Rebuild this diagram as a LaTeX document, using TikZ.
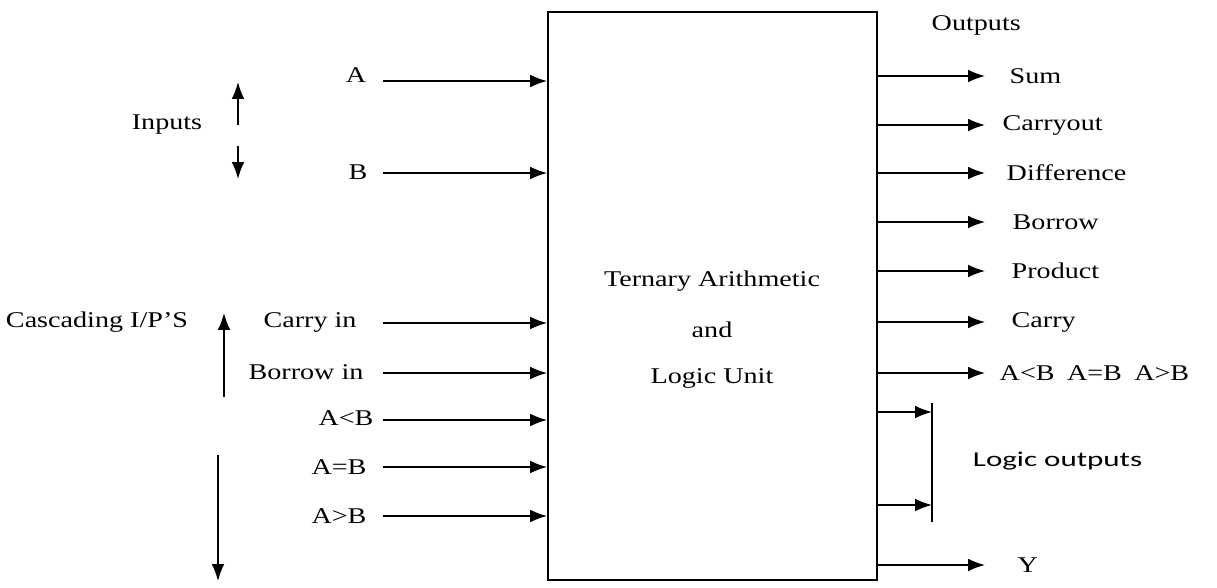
\documentclass[tikz,border=0pt]{standalone}
\usepackage{fontspec}
\setmainfont[FakeStretch=1.25]{Liberation Serif}
\newfontfamily\logicfont[FakeStretch=1.47]{Carlito}
\usetikzlibrary{arrows.meta, positioning}
\tikzset{
  unit/.style = {draw=black, line width=1.2pt, minimum width=8.225cm,
                 minimum height=14.2cm},
  arr/.style  = {-{Latex[length=12pt,width=9pt]}, line width=1.1pt},
  lbl/.style  = {font=\fontsize{16}{19}\selectfont, inner sep=1pt},
  bar/.style  = {line width=1.4pt},
}

\begin{document}
\begin{tikzpicture}[x=0.025cm, y=-0.025cm]
  \useasboundingbox (0,0) rectangle (1217,587);

  % the unit
  \node[unit] (alu) at (712.5,296) {};
  \node[lbl] (title1) at (712,281) {Ternary Arithmetic};
  \node[lbl] (title2) at (712,330) {and};
  \node[lbl] (title3) at (712,378) {Logic Unit};

  % inputs
  \node[lbl] (inputs) at (167,125) {Inputs};
  \coordinate (inup0) at (238,125);
  \coordinate (inup1) at (238,82);
  \coordinate (indn0) at (238,146);
  \coordinate (indn1) at (238,179);
  \draw[arr] (inup0) -- (inup1);
  \draw[arr] (indn0) -- (indn1);

  \node[lbl] (cascade) at (97,322) {Cascading I/P'S};
  \coordinate (caup0) at (224,397);
  \coordinate (caup1) at (224,313);
  \coordinate (cadn0) at (218,455);
  \coordinate (cadn1) at (218,581);
  \draw[arr] (caup0) -- (caup1);
  \draw[arr] (cadn0) -- (cadn1);

  % input lines into the unit
  \foreach \nm/\x/\y/\txt in {inA/356/75/A, inB/358/172/B,
      cin/310/322/Carry in, bin/306/372/Borrow in,
      ilt/346/418/A<B, ieq/339/467/A=B, igt/339/516/A>B}{
    \node[lbl] (\nm) at (\x,\y) {\txt};
  }
  \foreach \nm/\y in {inA/81, inB/173, cin/323, bin/373,
      ilt/420, ieq/467, igt/516}{
    \coordinate (\nm-s) at (383,\y);
    \draw[arr] (\nm-s) -- (\nm-s -| alu.west);
  }

  % outputs
  \node[lbl, anchor=west] (outputs) at (930,25) {Outputs};
  \foreach \nm/\y/\x/\txt in {sum/76/1008/Sum, cout/125/1001/Carryout,
      diff/173/1005/Difference, bout/222/1011/Borrow,
      prod/271/1010/Product, carry/322/1010/Carry,
      cmp/373/998/A<B\hspace{0.55em}A=B\hspace{0.55em}A>B, yout/565/1016/Y}{
    \coordinate (\nm-e) at (985,\y);
    \node[lbl, anchor=west] (\nm) at (\x,\y) {\txt};
    \draw[arr] (\nm-e -| alu.east) -- (\nm-e);
  }

  % logic outputs
  \coordinate (lbar1) at (932,403);
  \coordinate (lbar2) at (932,522);
  \draw[bar] (lbar1) -- (lbar2);
  \coordinate (lo1) at (932,412);
  \coordinate (lo2) at (932,505);
  \draw[arr] (lo1 -| alu.east) -- (lo1);
  \draw[arr] (lo2 -| alu.east) -- (lo2);
  \node[font=\logicfont\fontsize{15}{18}\selectfont, anchor=west]
    (logic) at (968,461) {Logic outputs};

\end{tikzpicture}
\end{document}
